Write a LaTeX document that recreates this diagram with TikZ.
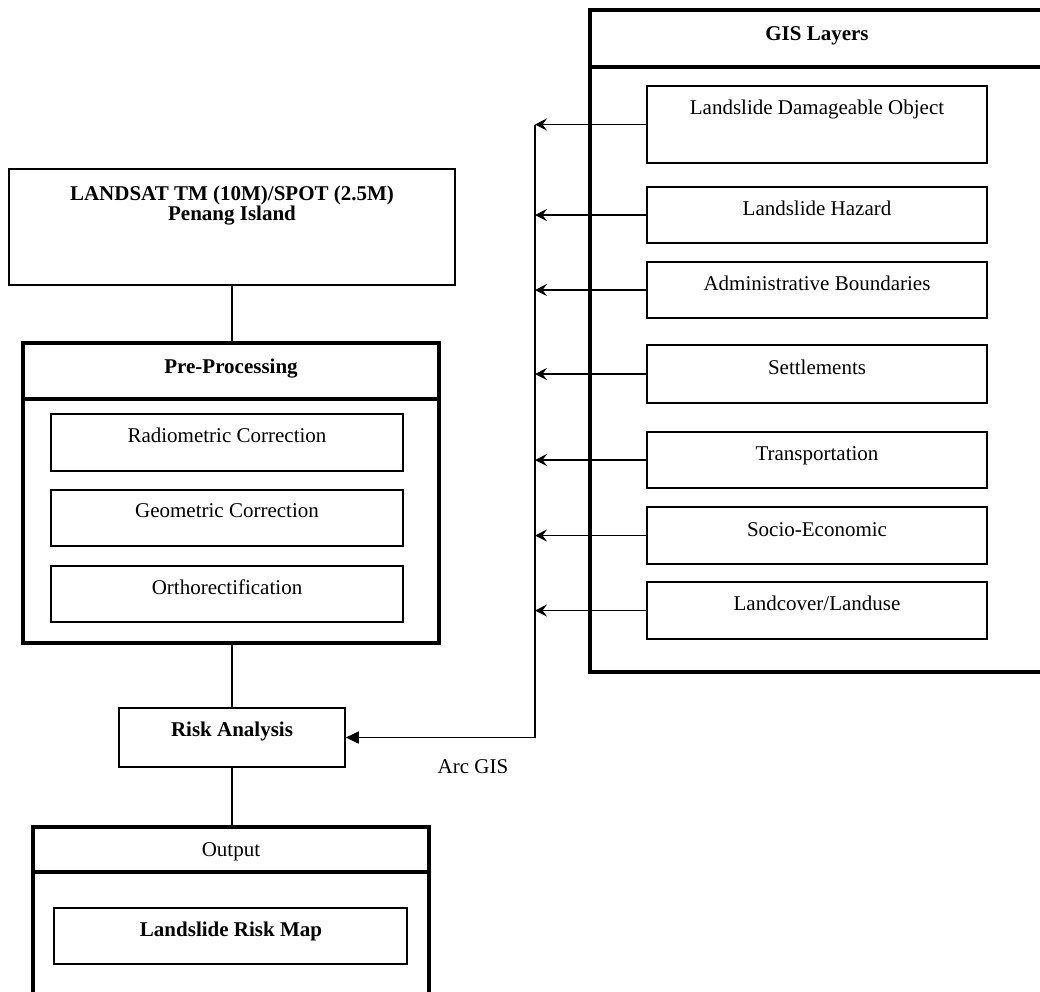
\documentclass[tikz,border=0pt]{standalone}
\usepackage{fontspec}
\setmainfont{Liberation Serif}
\usetikzlibrary{fit,arrows.meta}
\begin{document}
\begin{tikzpicture}[x=1pt,y=-1pt,
  thinbox/.style={draw=black, line width=1.5pt, inner sep=0pt},
  thickbox/.style={draw=black, line width=3.2pt, inner sep=0pt},
  txt/.style={font=\fontsize{21}{20}\selectfont, inner sep=0pt, anchor=base},
  btxt/.style={font=\fontsize{21}{20}\selectfont\bfseries, inner sep=0pt, anchor=base},
  conn/.style={line width=1.5pt},
  feed/.style={line width=1.5pt, -{Stealth[length=12pt,width=12pt,inset=4.5pt]}},
  mainarrow/.style={line width=1.5pt, -{Triangle[length=13pt,width=12pt]}}
]
\useasboundingbox (0,0) rectangle (1040,991);
\clip (0,0) rectangle (1040,991);

% Left column
\node[thinbox, fit={(9,169) (455,285)}] (landsat) {};
\node[btxt] (landsatA) at (232,200) {LANDSAT TM (10M)/SPOT (2.5M)};
\node[btxt] (landsatB) at (232,220) {Penang Island};

\node[thickbox, fit={(23,343) (439,399)}] (prehead) {};
\node[thickbox, fit={(23,399) (439,643)}] (prebody) {};
\node[btxt] (preT) at (231,373) {Pre-Processing};

\node[thinbox, fit={(51,414) (403,471)}] (radio) {};
\node[txt] (radioT) at (227,442) {Radiometric Correction};
\node[thinbox, fit={(51,490) (403,546)}] (geo) {};
\node[txt] (geoT) at (227,517) {Geometric Correction};
\node[thinbox, fit={(51,566) (403,622)}] (ortho) {};
\node[txt] (orthoT) at (227,594) {Orthorectification};

\node[thinbox, fit={(119,708) (345,767)}] (risk) {};
\node[btxt] (riskT) at (232,736) {Risk Analysis};

\node[thickbox, fit={(33,827) (429,872)}] (outhead) {};
\node[thickbox, fit={(33,872) (429,1010)}] (outbody) {};
\node[txt] (outT) at (231,856) {Output};
\node[thinbox, fit={(54,908) (407,964)}] (map) {};
\node[btxt] (mapT) at (231,936) {Landslide Risk Map};

% GIS layers
\node[thickbox, fit={(590,10) (1043,67)}] (gishead) {};
\node[thickbox, fit={(590,67) (1043,672)}] (gisbody) {};
\node[btxt] (gisT) at (817,40) {GIS Layers};

\node[thinbox, fit={(647,86) (987,163)}] (ldo) {};
\node[txt] (ldoT) at (817,114) {Landslide Damageable Object};
\node[thinbox, fit={(647,187) (987,243)}] (lh) {};
\node[txt] (lhT) at (817,215) {Landslide Hazard};
\node[thinbox, fit={(647,262) (987,318)}] (ab) {};
\node[txt] (abT) at (817,290) {Administrative Boundaries};
\node[thinbox, fit={(647,345) (987,403)}] (sett) {};
\node[txt] (settT) at (817,374) {Settlements};
\node[thinbox, fit={(647,432) (987,488)}] (trans) {};
\node[txt] (transT) at (817,460) {Transportation};
\node[thinbox, fit={(647,507) (987,564)}] (socio) {};
\node[txt] (socioT) at (817,536) {Socio-Economic};
\node[thinbox, fit={(647,582) (987,639)}] (land) {};
\node[txt] (landT) at (817,610) {Landcover/Landuse};

\node[txt] (arcT) at (473,773) {Arc GIS};

% connectors
\draw[conn] (landsat.south) -- (landsat.south |- prehead.north);
\draw[conn] (risk.north |- prebody.south) -- (risk.north);
\draw[conn] (risk.south) -- (risk.south |- outhead.north);

\coordinate (busX) at (535,0);
\draw[conn] (ldo.west -| busX) -- (risk.east -| busX);
\draw[mainarrow] (risk.east -| busX) -- (risk.east);
\foreach \n in {ldo,lh,ab,sett,trans,socio,land}
  \draw[feed] (\n.west) -- (\n.west -| busX);
\end{tikzpicture}
\end{document}
